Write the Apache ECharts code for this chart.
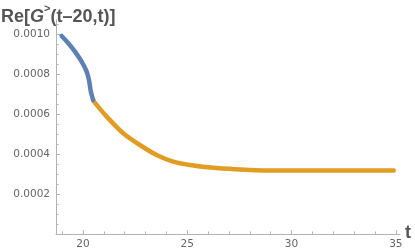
<!DOCTYPE html>
<html><head><meta charset="utf-8">
<script src="https://cdn.jsdelivr.net/npm/echarts@6/dist/echarts.min.js"></script>
<style>html,body{margin:0;padding:0;background:#fff}#c{width:415px;height:251px}</style>
</head><body><div id="c"></div>
<script>
const blueT = [18.98, 19.30, 19.62, 19.94, 20.18, 20.29, 20.38, 20.49];
const blueV = [0.00099, 0.000954, 0.000912, 0.000862, 0.000812, 0.00077, 0.000712, 0.00067];
const orangeT = [20.49, 20.53, 21.14, 21.93, 22.73, 23.53, 24.33, 25.13, 25.99, 27, 28, 29, 30, 32, 34.9];
const orangeV = [0.00067, 0.000662, 0.000587, 0.000504, 0.000445, 0.000395, 0.000362, 0.000345, 0.000334, 0.000326, 0.00032, 0.000317, 0.000317, 0.000317, 0.000317];
const xMajor = [20, 25, 30, 35];
const xMinor = [19, 21, 22, 23, 24, 26, 27, 28, 29, 31, 32, 33, 34];
const yMajor = [0.0002, 0.0004, 0.0006, 0.0008, 0.0010];
const yMinor = [0.00005, 0.0001, 0.00015, 0.00025, 0.0003, 0.00035, 0.00045, 0.0005, 0.00055, 0.00065, 0.0007, 0.00075, 0.00085, 0.0009, 0.00095, 0.00105];

const axisCol = '#b3b3b3';
const labCol = '#666';
const chart = echarts.init(document.getElementById('c'), null, {renderer: 'canvas'});
const xBase = {type: 'value', min: 18.71, max: 35.2, position: 'bottom', splitLine: {show: false}};
const yBase = {type: 'value', min: 0, max: 0.00107, position: 'left', splitLine: {show: false}};
chart.setOption({
  animation: false,
  grid: {left: 56, right: 15, top: 20, bottom: 17},
  xAxis: [
    Object.assign({}, xBase, {
      axisLine: {show: true, onZero: true, lineStyle: {color: axisCol, width: 1}},
      axisTick: {show: true, inside: true, length: 4, customValues: xMajor, lineStyle: {color: axisCol}},
      axisLabel: {show: true, customValues: xMajor, color: labCol, fontSize: 10.5, fontFamily: 'DejaVu Sans', margin: 5}
    }),
    Object.assign({}, xBase, {
      axisLine: {show: false, onZero: true},
      axisTick: {show: true, inside: true, length: 2.5, customValues: xMinor, lineStyle: {color: axisCol}},
      axisLabel: {show: false}
    })
  ],
  yAxis: [
    Object.assign({}, yBase, {
      axisLine: {show: true, lineStyle: {color: axisCol, width: 1}},
      axisTick: {show: true, inside: true, length: 4, customValues: yMajor, lineStyle: {color: axisCol}},
      axisLabel: {show: true, customValues: yMajor, color: labCol, fontSize: 10.5, fontFamily: 'DejaVu Sans', margin: 6,
        formatter: v => v.toFixed(4)}
    }),
    Object.assign({}, yBase, {
      axisLine: {show: false},
      axisTick: {show: true, inside: true, length: 2.5, customValues: yMinor, lineStyle: {color: axisCol}},
      axisLabel: {show: false}
    })
  ],
  series: [
    {type: 'line', xAxisIndex: 0, yAxisIndex: 0, smooth: 0.25, showSymbol: false, z: 3,
      data: orangeT.map((t, i) => [t, orangeV[i]]),
      lineStyle: {color: '#E19C24', width: 4.5, cap: 'round', join: 'round'}},
    {type: 'line', xAxisIndex: 0, yAxisIndex: 0, smooth: 0.2, showSymbol: false, z: 4,
      data: blueT.map((t, i) => [t, blueV[i]]),
      lineStyle: {color: '#5E81B5', width: 4.5, cap: 'round', join: 'round'}}
  ],
  graphic: [
    {type: 'text', left: 1, top: -2, style: {
      text: '{n|Re[}{g|G}{s|>}{n|(t–20,t)]}',
      rich: {
        n: {fontSize: 18, lineHeight: 28, verticalAlign: 'bottom', fontWeight: 'bold', fontFamily: 'Liberation Sans', fill: '#555'},
        g: {fontSize: 18, lineHeight: 28, verticalAlign: 'bottom', fontWeight: 'bold', fontStyle: 'italic', fontFamily: 'Liberation Sans', fill: '#555'},
        s: {fontSize: 11, lineHeight: 11, verticalAlign: 'top', fontWeight: 'bold', fontFamily: 'Liberation Sans', fill: '#555', padding: [5, 0, 0, 0]}
      }
    }},
    {type: 'text', left: 405, top: 224, style: {text: 't', fontSize: 18, fontWeight: 'bold', fontFamily: 'Liberation Sans', fill: '#555'}}
  ]
});
</script></body></html>
